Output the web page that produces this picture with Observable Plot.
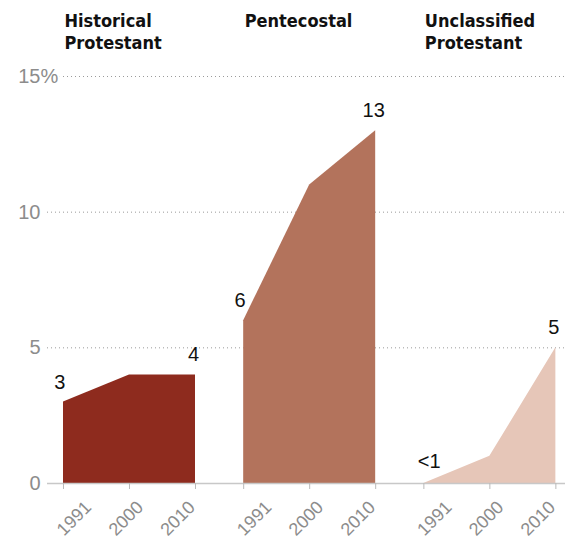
<!DOCTYPE html>
<html><head><meta charset="utf-8">
<script src="https://cdn.jsdelivr.net/npm/d3@7"></script>
<script src="https://cdn.jsdelivr.net/npm/@observablehq/plot@0.6"></script>
<style>html,body{margin:0;padding:0;background:#fff} #chart svg{display:block}</style>
</head><body><div id="chart"></div>
<script>
const groups = ["Historical Protestant", "Pentecostal", "Unclassified Protestant"];
const groupTitles = ["Historical\nProtestant", "Pentecostal", "Unclassified\nProtestant"];
const years = ["1991", "2000", "2010"];
const historical = [3, 4, 4];
const pentecostal = [6, 11, 13];
const unclassified = [0, 1, 5];
const historicalLabels = ["3", "", "4"];
const pentecostalLabels = ["6", "", "13"];
const unclassifiedLabels = ["<1", "", "5"];
const yTicks = [0, 5, 10, 15];
const gridTicks = [5, 10, 15];
const colors = ["#8E2B1E", "#B3735C", "#E6C6B8"];

const series = [historical, pentecostal, unclassified];
const seriesLabels = [historicalLabels, pentecostalLabels, unclassifiedLabels];
const rows = groups.flatMap((g, gi) => years.map((yr, yi) => ({
  group: g, gi, year: yr, yi, value: series[gi][yi], label: seriesLabels[gi][yi]
})));
const titleRows = groups.map((g, gi) => ({group: g, gi, yi: 0, title: groupTitles[gi]}));

const GROUP_STEP = 2.73;
const LABEL_SPREAD = 0.785;
const xPos = d => d.gi * GROUP_STEP + d.yi;
const xLabelPos = d => d.gi * GROUP_STEP + 1 + (d.yi - 1) * LABEL_SPREAD;
const sans = "'Liberation Sans', Arial, sans-serif";
const gray = "#8c8c8c";

const plot = Plot.plot({
  width: 565, height: 541,
  marginLeft: 47, marginRight: 0, marginTop: 76, marginBottom: 58,
  x: {type: "linear", domain: [-0.2424, 7.606]},
  y: {domain: [0, 15]},
  color: {domain: groups, range: colors},
  style: {fontFamily: sans, background: "white", overflow: "visible"},
  marks: [
    Plot.ruleY(gridTicks, {stroke: "#9a9a9a", strokeDasharray: "1,3", strokeWidth: 1}),
    Plot.areaY(rows, {x: xPos, y: "value", z: "group", fill: "group"}),
    Plot.ruleY([0], {stroke: "#c8c8c8", strokeWidth: 1.5}),
    Plot.axisX({ticks: rows.map(xPos), tickSize: 6, tickFormat: () => "", stroke: "#bbbbbb", label: null}),
    Plot.text(rows, {x: xLabelPos, frameAnchor: "bottom", text: "year", rotate: -45,
      textAnchor: "middle", lineAnchor: "middle", dx: -3.5, dy: 35, fontSize: 18, fill: gray}),
    Plot.axisY({ticks: yTicks, tickSize: 0, tickPadding: 7, fontSize: 20, fill: gray, label: null}),
    Plot.text([15], {y: d => d, frameAnchor: "left", text: () => "%", textAnchor: "start",
      dx: -7, fontSize: 20, fill: gray, stroke: "white", strokeWidth: 5, paintOrder: "stroke"}),
    Plot.text(titleRows, {x: xPos, frameAnchor: "top", text: "title", textAnchor: "start",
      lineAnchor: "top", dy: -64, dx: 1, fontFamily: "'DejaVu Sans Condensed', 'DejaVu Sans', sans-serif",
      fontWeight: "bold", fontSize: 18, lineHeight: 1.17, fill: "#111"}),
    Plot.text(rows, {filter: d => d.yi === 0 && !d.label.startsWith("<"), x: xPos, y: "value", text: "label",
      textAnchor: "end", lineAnchor: "middle", dx: 2, dy: -20, fontSize: 20, fill: "#111"}),
    Plot.text(rows, {filter: d => d.yi === 0 && d.label.startsWith("<"), x: xPos, y: "value", text: "label",
      textAnchor: "start", lineAnchor: "middle", dx: -6, dy: -22, fontSize: 20, fill: "#111"}),
    Plot.text(rows, {filter: d => d.yi === 2, x: xPos, y: "value", text: "label",
      textAnchor: "middle", lineAnchor: "middle", dx: -2, dy: -20, fontSize: 20, fill: "#111"})
  ]
});
document.getElementById("chart").appendChild(plot);
</script>
</body></html>
